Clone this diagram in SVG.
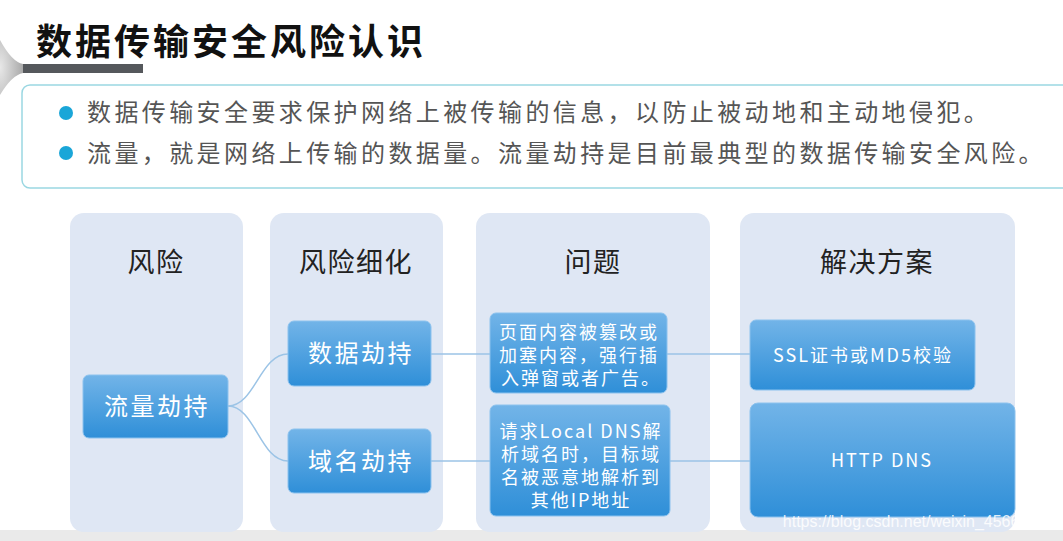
<svg xmlns="http://www.w3.org/2000/svg" width="1063" height="541" viewBox="0 0 1063 541">
<defs>
<linearGradient id="bg" x1="0" y1="0" x2="0" y2="1"><stop offset="0" stop-color="#72b4e8"/><stop offset="1" stop-color="#2f8fd8"/></linearGradient>
<radialGradient id="knob" cx="0" cy="0.5" r="1"><stop offset="0" stop-color="#e8e8e8"/><stop offset="1" stop-color="#a9a9a9"/></radialGradient>
</defs>
<style>
text{font-family:"Noto Sans CJK SC","Liberation Sans",sans-serif}
.col{fill:#dfe7f4}
.box{fill:url(#bg);stroke:#8cc2ee;stroke-width:1}
.h{font-size:27px;fill:#222;text-anchor:middle;letter-spacing:1.5px}
.t{font-size:24px;fill:#fff;text-anchor:middle;letter-spacing:2.5px}
.s{font-size:18px;fill:#fff;text-anchor:middle;letter-spacing:2px}
.b{font-size:24px;fill:#555;letter-spacing:3.4px}
.c{stroke:#9cc4e6;stroke-width:1.5;fill:none}
</style>
<rect width="1063" height="541" fill="#fff"/>
<rect x="0" y="530" width="1063" height="11" fill="#eaeaea"/>
<path d="M0 40 Q12 62 23 64 L23 73 Q12 75 0 95 Z" fill="url(#knob)"/>
<rect x="23" y="64" width="120" height="9" fill="#55585c"/>
<text x="36" y="55" font-size="36" font-weight="bold" fill="#111" letter-spacing="3">数据传输安全风险认识</text>
<rect x="22" y="85" width="1050" height="103" rx="8" fill="#fff" stroke="#9ad7e2" stroke-width="1.5"/>
<circle cx="66" cy="113" r="7" fill="#1aa6d8"/>
<circle cx="66" cy="153" r="7" fill="#1aa6d8"/>
<text class="b" x="87" y="121">数据传输安全要求保护网络上被传输的信息，以防止被动地和主动地侵犯。</text>
<text class="b" x="87" y="162" letter-spacing="2.8">流量，就是网络上传输的数据量。流量劫持是目前最典型的数据传输安全风险。</text>
<g id="col1"><rect class="col" x="70" y="213" width="173" height="319" rx="14"/><text class="h" x="156" y="272">风险</text></g>
<g id="col2"><rect class="col" x="270" y="213" width="173" height="319" rx="14"/><text class="h" x="356" y="272">风险细化</text></g>
<g id="col3"><rect class="col" x="476" y="213" width="234" height="319" rx="14"/><text class="h" x="593" y="272">问题</text></g>
<g id="col4"><rect class="col" x="740" y="213" width="275" height="319" rx="14"/><text class="h" x="877" y="272">解决方案</text></g>
<g id="connectors">
<path class="c" d="M228 406 C255 406 260 354 288 354"/>
<path class="c" d="M228 406 C255 406 260 461 288 461"/>
<path class="c" d="M431 354 L490 354 M667 354 L750 354"/>
<path class="c" d="M431 461 L490 461 M670 461 L750 461"/>
</g>
<g id="n1"><rect class="box" x="83" y="375" width="145" height="63" rx="6"/><text class="t" x="157" y="415">流量劫持</text></g>
<g id="n2"><rect class="box" x="288" y="321" width="143" height="65" rx="6"/><text class="t" x="361" y="362">数据劫持</text></g>
<g id="n3"><rect class="box" x="288" y="429" width="143" height="64" rx="6"/><text class="t" x="361" y="470">域名劫持</text></g>
<g id="n4"><rect class="box" x="490" y="313" width="177" height="80" rx="6"/><text class="s" x="579" y="339">页面内容被篡改或</text><text class="s" x="579" y="362">加塞内容，强行插</text><text class="s" x="581" y="385">入弹窗或者广告。</text></g>
<g id="n5"><rect class="box" x="490" y="405" width="180" height="111" rx="6"/><text class="s" x="581" y="438">请求Local DNS解</text><text class="s" x="581" y="461">析域名时，目标域</text><text class="s" x="581" y="484">名被恶意地解析到</text><text class="s" x="581" y="507">其他IP地址</text></g>
<g id="n6"><rect class="box" x="750" y="320" width="225" height="70" rx="6"/><text class="s" x="863" y="362" letter-spacing="0.5">SSL证书或MD5校验</text></g>
<g id="n7"><rect class="box" x="750" y="403" width="265" height="114" rx="8"/><text class="s" x="882" y="467" letter-spacing="0.5">HTTP DNS</text></g>
<text x="1055" y="527" font-size="16" fill="#fff" fill-opacity="0.85" text-anchor="end" style="font-family:'Liberation Sans',sans-serif">https://blog.csdn.net/weixin_45663905</text>
</svg>
